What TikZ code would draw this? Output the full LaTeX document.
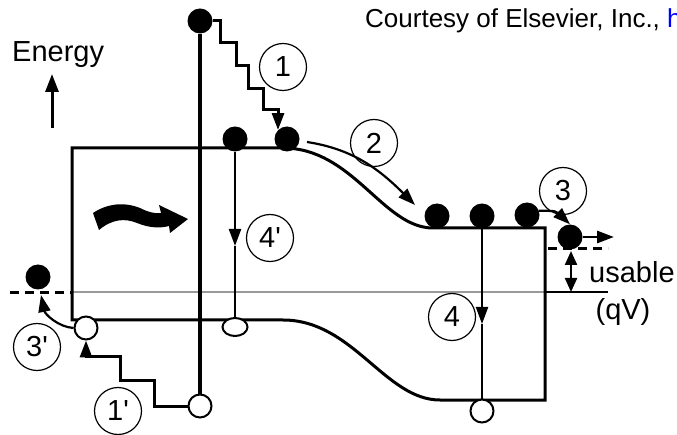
\documentclass[tikz,border=0pt]{standalone}
\usepackage{fontspec}
\setmainfont{Liberation Sans}
\usetikzlibrary{arrows.meta,shapes.geometric}
\tikzset{
  bandline/.style={line width=3pt, line join=miter},
  stair/.style={line width=3pt, line join=miter},
  vthick/.style={line width=4.5pt},
  vline/.style={line width=2.2pt},
  elec/.style={circle, fill=black, minimum size=25pt, inner sep=0pt},
  hole/.style={circle, draw=black, line width=2pt, fill=white, minimum size=23pt, inner sep=0pt},
  oval/.style={ellipse, draw=black, line width=2pt, fill=white, minimum width=25pt, minimum height=18pt, inner sep=0pt},
  numc/.style={circle, draw=black, line width=1.2pt, minimum size=47pt, inner sep=0pt, font=\fontsize{29}{29}\selectfont},
  lbl/.style={font=\fontsize{29}{29}\selectfont, inner sep=0pt},
  headarrow/.style={-{Triangle[length=17pt,width=12pt]}},
  axishead/.style={-{Triangle[length=18pt,width=13pt]}},
  twoheads/.style={{Triangle[length=14pt,width=12pt]}-{Triangle[length=14pt,width=12pt]}},
  fermi/.style={line width=3pt, dash pattern=on 9pt off 6pt},
}
\begin{document}
\begin{tikzpicture}[x=1pt,y=-1pt]
\useasboundingbox (0,0) rectangle (677,435);

% credit line
\node[anchor=base west, inner sep=0pt, font=\fontsize{26}{26}\selectfont] (credit) at (365,28)
  {Courtesy of Elsevier, Inc., \textcolor{blue}{h}};

% energy axis
\node[lbl, anchor=base west] (energy) at (12,62) {Energy};
\coordinate (eaTail) at (52,128);
\coordinate (eaHead) at (52,74);
\draw[line width=3pt, axishead] (eaTail) -- (eaHead);

% Fermi levels
\draw[black!40, line width=2pt] (72,292) -- (545,292);
\draw[line width=2pt] (545,292) -- (608,292);
\draw[fermi] (10,293) -- (72,293);
\draw[fermi] (548,249) -- (608,249);

% band edges
\draw[bandline] (72,320) -- (72,148) -- (283,148)
  .. controls (353,148) and (383,228) .. (433,228) -- (545,228) -- (545,400) -- (440,400)
  .. controls (385,400) and (353,320) .. (283,320) -- cycle;

% incoming light
\fill (93,213) .. controls (108,203) and (125,202) .. (140,208)
  .. controls (148,212) and (155,214) .. (161,213) -- (159,205) -- (188,219) -- (170,233) -- (169,226)
  .. controls (158,229) and (147,227) .. (137,223)
  .. controls (125,218) and (112,219) .. (99,230) -- cycle;

% carriers
\node[elec] (etop) at (200,21) {};
\node[elec] (e4p) at (235,139) {};
\node[elec] (e1) at (287,139) {};
\node[elec] (e2a) at (437,216) {};
\node[elec] (e4) at (482,216) {};
\node[elec] (e2c) at (527,215) {};
\node[elec] (e3) at (570,237) {};
\node[elec] (e3p) at (38,277) {};
\node[hole] (h3p) at (86,328) {};
\node[oval] (h4p) at (235,327) {};
\node[hole] (h1p) at (200,406) {};
\node[hole] (h4) at (482,411) {};

% process labels
\node[numc] (n1) at (283,67) {1};
\node[numc] (n2) at (374,143) {2};
\node[numc] (n3) at (563,191) {3};
\node[numc] (n4) at (452,317) {4};
\node[numc] (n4p) at (270,238) {4\textquotesingle};
\node[numc] (n3p) at (37,347) {3\textquotesingle};
\node[numc] (n1p) at (118,411) {1\textquotesingle};

% absorption
\draw[vthick] (etop) -- (h1p);

% thermalisation
\draw[stair, headarrow] (etop.east) -| (220,43) -| (236,66) -| (248,89) -| (263,110) -| (e1.north west);
\draw[stair, headarrow] (h1p.west) -| (154,380) -| (120,357) -| (h3p.south);

% transport
\coordinate (a2s) at (307,142);
\coordinate (a2e) at (415,205);
\draw[line width=2.2pt, headarrow] (a2s) .. controls (352,149) and (378,168) .. (a2e);

% extraction
\draw[line width=2.2pt, headarrow] (e2c.20) .. controls (556,211) .. (e3.north);
\coordinate (out) at (614,237);
\draw[line width=2.8pt, headarrow] (e3.east) -- (out);
\coordinate (a3pe) at (41,295);
\draw[line width=2.2pt, headarrow] (h3p.west) .. controls (58,327) and (45,314) .. (a3pe);

% recombination
\coordinate (m4p) at (235,246);
\draw[vline, headarrow] (e4p) -- (m4p);
\draw[vline] (m4p) -- (h4p);
\coordinate (m4) at (482,324);
\draw[vline, headarrow] (e4) -- (m4);
\draw[vline] (m4) -- (h4);

% usable voltage
\coordinate (uTop) at (571,251);
\coordinate (uBot) at (571,292);
\draw[line width=2.2pt, twoheads] (uTop) -- (uBot);
\node[lbl, anchor=base west] (usable) at (589,283) {usable};
\node[lbl, anchor=base] (qv) at (623,320) {(qV)};
\end{tikzpicture}
\end{document}
